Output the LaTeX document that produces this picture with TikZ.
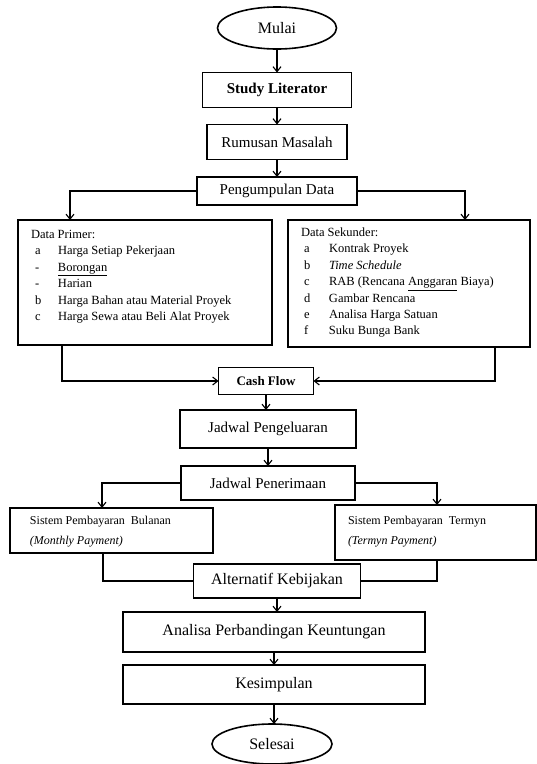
\documentclass[tikz,border=0pt]{standalone}
\usepackage{fontspec}
\setmainfont{Liberation Serif}
\usetikzlibrary{arrows.meta,calc,shapes.geometric}
\newcommand{\lbl}{\fontsize{15}{18}\selectfont}
\newcommand{\lblbig}{\fontsize{16}{19}\selectfont}
\newcommand{\lst}{\fontsize{12.5}{16.4}\selectfont}
\begin{document}
\begin{tikzpicture}[x=1pt,y=-1pt,
  every node/.style={inner sep=0pt, outer sep=0pt},
  blk/.style={draw, line width=1.6pt, font=\lbl},
  oval/.style={draw, ellipse, line width=1.6pt, font=\lblbig},
  conn/.style={line width=1.1pt},
  arr/.style={conn, -{Straight Barb[length=5pt,width=8pt,line width=1.1pt]}}
]
\useasboundingbox (0,0) rectangle (537,764);

% main flow
\node[oval, minimum width=119pt, minimum height=42pt] (mulai) at (277,28) {Mulai};
\node[blk, minimum width=149pt, minimum height=35pt, font=\lbl\bfseries] (study) at (277,90) {Study Literator};
\node[blk, minimum width=140pt, minimum height=35pt] (rumusan) at (277,142) {Rumusan Masalah};
\node[blk, minimum width=160pt, minimum height=28pt] (kumpul) at (277,191) {Pengumpulan Data};

% data boxes
\node[blk, minimum width=254pt, minimum height=125pt] (primer) at (145,282.5) {};
\node[blk, minimum width=242pt, minimum height=127pt] (sekunder) at (409,283.5) {};

\node[anchor=north west, font=\lst] (primertxt) at (31,227) {%
\begin{tabular}{@{}p{27pt}@{}l@{}}
\multicolumn{2}{@{}l@{}}{Data Primer:}\\
\hspace{4pt}a & Harga Setiap Pekerjaan\\
\hspace{4pt}- & \underline{Borongan}\\
\hspace{4pt}- & Harian\\
\hspace{4pt}b & Harga Bahan atau Material Proyek\\
\hspace{4pt}c & Harga Sewa atau Beli Alat Proyek
\end{tabular}};

\node[anchor=north west, font=\lst] (sekundertxt) at (301,225) {%
\begin{tabular}{@{}p{28pt}@{}l@{}}
\multicolumn{2}{@{}l@{}}{Data Sekunder:}\\
\hspace{3pt}a & Kontrak Proyek\\
\hspace{3pt}b & \textit{Time Schedule}\\
\hspace{3pt}c & RAB (Rencana \underline{Anggaran} Biaya)\\
\hspace{3pt}d & Gambar Rencana\\
\hspace{3pt}e & Analisa Harga Satuan\\
\hspace{3pt}f & Suku Bunga Bank
\end{tabular}};

\node[blk, minimum width=95pt, minimum height=27pt, font=\fontsize{13}{16}\selectfont\bfseries] (cash) at (266,381) {Cash Flow};
\node[blk, minimum width=176pt, minimum height=38pt] (keluar) at (268,429) {Jadwal Pengeluaran};
\node[blk, minimum width=174pt, minimum height=34pt] (terima) at (268,483) {Jadwal Penerimaan};

% payment systems
\node[blk, minimum width=203pt, minimum height=45pt] (bulan) at (111.5,530.5) {};
\node[anchor=west, align=left, font=\fontsize{12}{20}\selectfont] (bulantxt) at (30,532) {Sistem Pembayaran\ \ Bulanan\\\textit{(Monthly Payment)}};
\node[blk, minimum width=201pt, minimum height=55pt] (termyn) at (435.5,532.5) {};
\node[anchor=west, align=left, font=\fontsize{12}{20}\selectfont] (termyntxt) at (348,532) {Sistem Pembayaran\ \ Termyn\\\textit{(Termyn Payment)}};

\node[blk, minimum width=167pt, minimum height=34pt, font=\lblbig] (alt) at (277,581) {Alternatif Kebijakan};
\node[blk, minimum width=302pt, minimum height=40pt, font=\lblbig] (analisa) at (274,632) {Analisa Perbandingan Keuntungan};
\node[blk, minimum width=302pt, minimum height=39pt, font=\lblbig] (simpul) at (274,684.5) {Kesimpulan};
\node[oval, minimum width=120pt, minimum height=40pt] (selesai) at (272,744) {Selesai};

% connectors
\draw[arr] (mulai.south) -- (mulai.south |- study.north);
\draw[arr] (study.south) -- (study.south |- rumusan.north);
\draw[arr] (rumusan.south) -- (rumusan.south |- kumpul.north);
\draw[arr] (kumpul.west) -| ($(primer.north west)+(52,0)$);
\draw[arr] (kumpul.east) -| ($(sekunder.north west)+(177,0)$);
\draw[arr] ($(primer.south west)+(44,0)$) |- (cash.west);
\draw[arr] ($(sekunder.south west)+(207,0)$) |- (cash.east);
\draw[arr] (cash.south) -- (cash.south |- keluar.north);
\draw[arr] (keluar.south) -- (keluar.south |- terima.north);
\draw[arr] (terima.west) -| ($(bulan.north west)+(92,0)$);
\draw[arr] (terima.east) -| ($(termyn.north west)+(102,0)$);
\draw[conn] ($(bulan.south west)+(93,0)$) |- (alt.west);
\draw[conn] ($(termyn.south west)+(102,0)$) |- (alt.east);
\draw[arr] (alt.south) -- (alt.south |- analisa.north);
\draw[arr] (analisa.south) -- (analisa.south |- simpul.north);
\draw[arr] (simpul.south) -- (simpul.south |- selesai.north);
\end{tikzpicture}
\end{document}
